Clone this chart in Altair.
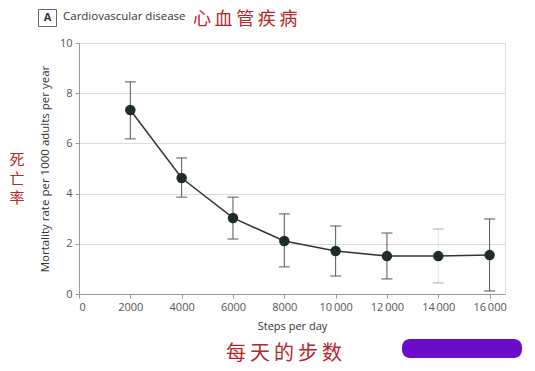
import altair as alt
import pandas as pd

steps = [2000, 4000, 6000, 8000, 10000, 12000, 14000, 16000]
rate = [7.33, 4.62, 3.03, 2.11, 1.71, 1.51, 1.51, 1.55]
lower = [6.18, 3.86, 2.19, 1.08, 0.72, 0.60, 0.44, 0.12]
upper = [8.45, 5.42, 3.86, 3.19, 2.71, 2.43, 2.59, 2.99]

df = pd.DataFrame({"steps": steps, "rate": rate, "lo": lower, "hi": upper})

W, H = 426, 251
FONT = "Open Sans"
CJK = "Noto Sans CJK SC"
RED = "#b8262b"
TS = "\u2009"

xs = alt.X("steps:Q", scale=alt.Scale(domain=[0, 16600], nice=False),
           axis=alt.Axis(title="Steps per day", values=list(range(0, 16001, 2000)),
                         labelExpr="datum.value >= 10000 ? floor(datum.value / 1000) + '\u2009000' : format(datum.value, 'd')",
                         grid=False, domainColor="#999", tickColor="#999", tickSize=4,
                         labelColor="#555", labelFontSize=11, labelFont=FONT,
                         titleFont=FONT, titleFontSize=11, titleFontWeight="normal",
                         titleColor="#333", titlePadding=8, labelPadding=3))
ys = alt.Y("rate:Q", scale=alt.Scale(domain=[0, 10], nice=False),
           axis=alt.Axis(title="Mortality rate per 1000 adults per year",
                         values=[0, 2, 4, 6, 8, 10], grid=True, gridColor="#dcdcdc",
                         domainColor="#999", tickColor="#999", tickSize=4,
                         labelColor="#555", labelFontSize=11, labelFont=FONT,
                         titleFont=FONT, titleFontSize=11.5, titleFontWeight="normal",
                         titleColor="#333", titlePadding=9, labelPadding=3))

base = alt.Chart(df)

rules = base.mark_rule(color="#555", strokeWidth=1).encode(
    x=xs, y=alt.Y("lo:Q"), y2="hi:Q",
    opacity=alt.condition("datum.steps == 14000", alt.value(0.15), alt.value(1.0)))
caps_lo = base.mark_tick(color="#555", orient="horizontal", size=11, thickness=1).encode(
    x="steps:Q", y="lo:Q",
    opacity=alt.condition("datum.steps == 14000", alt.value(0.5), alt.value(1.0)))
caps_hi = base.mark_tick(color="#555", orient="horizontal", size=11, thickness=1).encode(
    x="steps:Q", y="hi:Q",
    opacity=alt.condition("datum.steps == 14000", alt.value(0.5), alt.value(1.0)))
line = base.mark_line(color="#333", strokeWidth=1.5).encode(x="steps:Q", y=ys)
pts = base.mark_circle(color="#1e2d2a", opacity=1, size=110).encode(x="steps:Q", y="rate:Q")

one = pd.DataFrame({"a": [0]})
dec = alt.Chart(one)
box = dec.mark_rect(fill="white", stroke="#666", strokeWidth=1).encode(
    x=alt.value(-40.5), x2=alt.value(-22.5), y=alt.value(-33.5), y2=alt.value(-16.5))
a_txt = dec.mark_text(text="A", font=FONT, fontSize=11, fontWeight="bold", color="#333").encode(
    x=alt.value(-31.5), y=alt.value(-25))
title = dec.mark_text(text="Cardiovascular disease", font=FONT, fontSize=11.5, color="#333",
                      align="left").encode(x=alt.value(-16), y=alt.value(-26))
cn_title = dec.mark_text(text=TS.join("心血管疾病"), font=CJK, fontSize=18, color=RED,
                         align="left").encode(x=alt.value(114), y=alt.value(-23))
cn_y = dec.mark_text(text=["死", "亡", "率"], font=CJK, fontSize=15, color=RED,
                     lineHeight=19).encode(x=alt.value(-62), y=alt.value(117))
cn_x = dec.mark_text(text=TS.join("每天的步数"), font=CJK, fontSize=20, color=RED).encode(
    x=alt.value(205), y=alt.value(311))
blob = dec.mark_rect(fill="#6a0dc9", cornerRadius=8).encode(
    x=alt.value(323), x2=alt.value(443), y=alt.value(296), y2=alt.value(315))

chart = alt.layer(rules, caps_lo, caps_hi, line, pts, box, a_txt, title, cn_title, cn_y, cn_x, blob).properties(
    width=W, height=H,
    autosize=alt.AutoSizeParams(type="none"),
    padding={"left": 71, "top": 35, "right": 22, "bottom": 69},
).configure_view(stroke=None).configure(background="white")

chart.save("out.html", embed_options={"renderer": "svg", "actions": False})
